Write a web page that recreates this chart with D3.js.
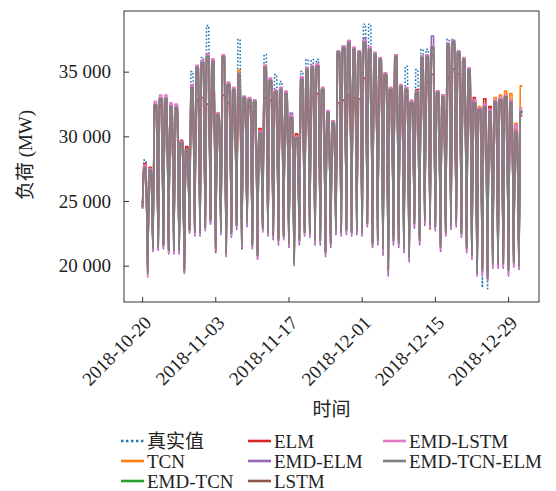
<!DOCTYPE html>
<html>
<head>
<meta charset="utf-8">
<script src="https://cdn.jsdelivr.net/npm/d3@7"></script>
<style>
body { margin: 0; background: #fff; }
text { font-family: "Liberation Serif", "DejaVu Serif", "Noto Sans CJK SC", serif; fill: #222; }
</style>
</head>
<body>
<div id="chart"></div>
<script>
// hourly load, kept as one night trough and one daytime level per day
const startDay = "2018-10-20";
const troughHour = 2;
const riseHour = 8;
const fallHour = 18;
const xTickDates = ["2018-10-20", "2018-11-03", "2018-11-17", "2018-12-01", "2018-12-15", "2018-12-29"];
const yTickValues = [20000, 25000, 30000, 35000];

const seriesNames = ["真实值", "TCN", "EMD-TCN", "ELM", "EMD-ELM", "LSTM", "EMD-LSTM", "EMD-TCN-ELM"];
const seriesColors = ["#1f77b4", "#ff7f0e", "#2ca02c", "#d62728", "#9467bd", "#8c564b", "#e377c2", "#7f7f7f"];

const actualLow = [24510, 19500, 21320, 21400, 21560, 21170, 21170, 21170, 19460, 22720,
  22570, 22570, 22960, 23300, 21320, 22720, 20930, 22490, 23110, 21560,
  23340, 21560, 20780, 22880, 22570, 22330, 21940, 22260, 21710, 20230,
  21940, 22570, 22490, 21940, 21940, 21010, 21710, 22720, 22570, 22720,
  22570, 22720, 22570, 23270, 21710, 21940, 21320, 19610, 21940, 21710,
  21320, 20780, 23270, 21940, 23500, 23200, 23000, 21450, 22570, 23110,
  23340, 22490, 21320, 20780, 19460, 18310, 18210, 20160, 20160, 20160,
  19610, 20230, 20000];
const actualHigh = [28160, 27390, 32440, 32910, 32910, 32290, 32440, 29490, 29100, 35000,
  35320, 36100, 38560, 35790, 31660, 36170, 34000, 33610, 37500, 32990,
  32830, 32680, 30260, 36330, 34310, 34770, 34230, 33300, 31430, 29880,
  35010, 35940, 35940, 35940, 33610, 31820, 31040, 36560, 36870, 37260,
  36720, 36490, 38660, 38660, 36330, 35940, 34770, 33610, 36170, 33840,
  35420, 32600, 35160, 36720, 36720, 36900, 33380, 33060, 37500, 37500,
  36490, 35940, 35160, 32600, 32050, 32290, 31900, 32680, 32830, 33060,
  32600, 30340, 31900];

const tcnLow = [24700, 19700, 21500, 21600, 21700, 21300, 21300, 21400, 19800, 22900,
  22700, 22800, 23100, 23600, 21500, 22900, 21100, 22600, 23200, 21700,
  23400, 21700, 20900, 23000, 22700, 22500, 22100, 22400, 21800, 20400,
  22100, 22700, 22600, 22100, 22100, 21200, 21800, 22900, 22700, 22900,
  22700, 22900, 22700, 23300, 21500, 22300, 21700, 20300, 22400, 22200,
  21900, 21300, 23600, 22300, 23800, 22800, 23400, 22000, 22800, 23700,
  23500, 22600, 21500, 21000, 19700, 19900, 19300, 20400, 20400, 20400,
  19900, 20500, 20300];
const tcnHigh = [27700, 27500, 32300, 32800, 32800, 32200, 32100, 29600, 29100, 33600,
  35100, 35500, 36000, 35600, 31800, 35900, 33900, 33500, 35100, 33000,
  32800, 32600, 30400, 35500, 34200, 33300, 33500, 33200, 31500, 30100,
  34200, 35000, 35100, 35200, 33500, 31900, 31200, 36300, 36700, 37000,
  36500, 36300, 37000, 36600, 36200, 35800, 34700, 33700, 36000, 33900,
  33700, 32700, 33400, 35900, 36000, 36700, 33500, 33200, 36900, 37100,
  36300, 35800, 35000, 32800, 32300, 32500, 32300, 33000, 33200, 33500,
  33300, 31000, 33900];

const emdTcnLow = [24500, 19500, 21400, 21400, 21600, 21200, 21200, 21200, 19700, 22700,
  22600, 22600, 23000, 23500, 21400, 22700, 21000, 22500, 23100, 21600,
  23300, 21600, 20800, 22900, 22600, 22400, 22000, 22300, 21700, 20300,
  22000, 22600, 22500, 22000, 22000, 21100, 21700, 22700, 22600, 22700,
  22600, 22700, 22600, 23200, 21700, 22000, 21400, 19700, 22000, 21700,
  21400, 20700, 23200, 22000, 23400, 23200, 23000, 21500, 22600, 23100,
  23300, 22500, 21400, 20800, 19500, 19700, 19100, 20200, 20200, 20200,
  19700, 20300, 20100];
const emdTcnHigh = [27600, 27400, 32400, 32900, 32900, 32300, 32200, 29500, 29000, 33700,
  35300, 35700, 36100, 35700, 31700, 36100, 34000, 33600, 34900, 33000,
  32800, 32700, 30300, 35400, 34300, 33500, 33600, 33300, 31400, 29900,
  34400, 35200, 35300, 35400, 33600, 31800, 31100, 36500, 36800, 37200,
  36700, 36500, 37200, 36700, 36300, 35900, 34800, 33600, 36100, 33800,
  33600, 32600, 33400, 36000, 36100, 36800, 33400, 33100, 37000, 37300,
  36500, 35900, 35100, 32600, 32100, 32300, 31900, 32700, 32800, 33100,
  32600, 30400, 31900];

const elmLow = [24800, 19900, 21700, 21900, 22100, 21700, 21600, 21700, 20200, 23200,
  23300, 23400, 23500, 23900, 21900, 23100, 21600, 23000, 23500, 21900,
  23600, 22000, 21300, 23300, 23000, 22800, 22600, 22700, 22300, 20900,
  22600, 23200, 23300, 23400, 23000, 22200, 22600, 24200, 24800, 24700,
  24500, 24600, 24400, 24800, 23500, 23200, 22400, 21200, 22900, 22800,
  22500, 22000, 23900, 23100, 24300, 23900, 23800, 22300, 23100, 23600,
  23800, 23000, 21900, 21300, 20200, 20300, 19800, 20600, 20700, 20700,
  20300, 20700, 20500];
const elmHigh = [27900, 27600, 32000, 32400, 32500, 32000, 31900, 29700, 29200, 32000,
  32800, 33000, 32500, 33600, 31400, 33200, 32600, 32400, 33000, 32200,
  32300, 32000, 30600, 33000, 32800, 32500, 32400, 32300, 31300, 30200,
  32300, 33000, 33100, 33300, 32500, 31200, 30900, 32600, 32800, 33200,
  33000, 32900, 34500, 36000, 35500, 35000, 34200, 33500, 36300, 33500,
  33000, 32400, 33600, 34300, 34200, 34800, 33100, 33000, 34600, 35200,
  34800, 34500, 33800, 33000, 32200, 32900, 32300, 32600, 32600, 32800,
  32600, 30500, 31600];

const emdElmLow = [24400, 20200, 21100, 21200, 21300, 20900, 20900, 20900, 19400, 22500,
  22300, 22300, 22700, 23200, 21000, 22400, 20700, 22200, 22800, 21300,
  23000, 21300, 20500, 22600, 22300, 22000, 21600, 22000, 21400, 20000,
  21600, 22300, 22200, 21600, 21600, 20700, 21400, 22400, 22300, 22400,
  22300, 22400, 22300, 23000, 21400, 21600, 20800, 19200, 21600, 21400,
  21000, 20300, 22900, 21600, 23100, 22900, 22700, 21100, 22300, 22800,
  23000, 22200, 21000, 20500, 19200, 19400, 18900, 19800, 19800, 19800,
  19200, 19900, 19700];
const emdElmHigh = [27500, 27300, 32500, 33000, 33000, 32400, 32300, 29400, 28800, 33900,
  35400, 35800, 36300, 35900, 31600, 36200, 34100, 33700, 34800, 33100,
  32900, 32800, 30200, 35400, 34400, 33500, 33700, 33400, 31800, 29800,
  34500, 35200, 35400, 35500, 33700, 31900, 31100, 36600, 37000, 37400,
  36800, 36600, 37600, 36800, 36400, 36000, 34900, 33700, 36200, 33900,
  33700, 32700, 33500, 36200, 36300, 37750, 33500, 33200, 37200, 37400,
  36600, 36000, 35200, 32700, 32100, 32400, 32000, 32700, 32900, 33100,
  32700, 30400, 32000];

const lstmLow = [24600, 19600, 21400, 21500, 21600, 21200, 21200, 21300, 19700, 22800,
  22700, 22700, 23000, 23500, 21100, 22800, 21000, 22600, 23200, 21300,
  23400, 21600, 20900, 22900, 22600, 22400, 22000, 22300, 21800, 20300,
  22000, 22600, 22500, 22000, 22000, 21100, 21800, 22800, 22700, 22800,
  22600, 22800, 22600, 23300, 21800, 22000, 21400, 19800, 22200, 22000,
  21500, 20800, 23500, 22200, 23700, 23400, 23200, 21600, 22700, 23300,
  23500, 22600, 21400, 20900, 19600, 19700, 19200, 20300, 20300, 20300,
  19800, 20400, 20100];
const lstmHigh = [27600, 27400, 32300, 32800, 32800, 32200, 32100, 29500, 29000, 33500,
  35000, 35400, 35800, 35500, 31700, 35800, 33900, 33500, 34600, 32900,
  32800, 32600, 30300, 35100, 34200, 33400, 33500, 33300, 31500, 29900,
  34200, 35000, 35200, 35500, 33500, 31800, 31000, 36300, 36700, 37000,
  36500, 36300, 37000, 36500, 36100, 35700, 34600, 33600, 36000, 33700,
  33500, 32600, 33200, 35700, 35600, 36300, 33200, 33000, 36800, 37100,
  36300, 35700, 35000, 32600, 32100, 32300, 31900, 32700, 32800, 33000,
  32600, 30300, 31800];

const emdLstmLow = [24400, 19100, 21200, 21300, 21400, 21000, 21000, 21000, 19500, 22600,
  22400, 22400, 22800, 23300, 21200, 22600, 20800, 22300, 23000, 21400,
  23200, 21400, 20500, 22700, 22400, 22200, 21800, 22100, 21600, 20100,
  21800, 22400, 22300, 21800, 21800, 20900, 21600, 22600, 22400, 22600,
  22400, 22600, 22400, 23100, 21600, 21800, 21100, 19500, 21800, 21600,
  21200, 20500, 23100, 21800, 23300, 23000, 22800, 21300, 22400, 23000,
  23200, 22300, 21100, 20600, 19300, 19200, 18900, 19900, 19900, 19900,
  19400, 20000, 19800];
const emdLstmHigh = [27800, 27500, 32700, 33200, 33200, 32600, 32500, 29600, 29000, 34000,
  35500, 35900, 36400, 36000, 31800, 36300, 34200, 33800, 34900, 33100,
  33000, 32800, 30400, 35500, 34500, 33600, 33800, 33500, 31600, 30000,
  34600, 35300, 35500, 35600, 33800, 32000, 31200, 36600, 37000, 37400,
  36900, 36600, 37400, 36900, 36500, 36100, 34900, 33800, 36300, 34000,
  33800, 32800, 33500, 36200, 36300, 37000, 33500, 33200, 37200, 37400,
  36600, 36100, 35300, 32800, 32200, 32500, 32100, 32800, 33000, 33200,
  32800, 30900, 32200];

const emdTcnElmLow = [24510, 19380, 21320, 21400, 21560, 21170, 21170, 21170, 19610, 22720,
  22570, 22570, 22960, 23500, 21320, 22720, 20930, 22490, 23110, 21560,
  23340, 21560, 20780, 22880, 22570, 22330, 21940, 22260, 21710, 20230,
  21940, 22570, 22490, 21940, 21940, 21010, 21710, 22720, 22570, 22720,
  22570, 22720, 22570, 23270, 21710, 21940, 21320, 19610, 21940, 21710,
  21320, 20620, 23270, 21940, 23500, 23200, 23000, 21400, 22570, 23110,
  23340, 22490, 21320, 20780, 19460, 19610, 18990, 20160, 20160, 20160,
  19610, 20230, 20000];
const emdTcnElmHigh = [27540, 27390, 32440, 32910, 32910, 32290, 32210, 29490, 28940, 33760,
  35320, 35710, 36170, 35790, 31660, 36170, 34000, 33610, 34770, 32990,
  32830, 32680, 30260, 35320, 34310, 33450, 33610, 33300, 31430, 29880,
  34390, 35160, 35320, 35400, 33610, 31820, 31040, 36490, 36870, 37260,
  36720, 36490, 37260, 36720, 36330, 35940, 34770, 33610, 36170, 33840,
  33610, 32600, 33380, 36100, 36170, 36900, 33380, 33060, 37110, 37340,
  36490, 35940, 35160, 32600, 32050, 32290, 31900, 32680, 32830, 33060,
  32600, 30340, 31900];

const seriesLows = [actualLow, tcnLow, emdTcnLow, elmLow, emdElmLow, lstmLow, emdLstmLow, emdTcnElmLow];
const seriesHighs = [actualHigh, tcnHigh, emdTcnHigh, elmHigh, emdElmHigh, lstmHigh, emdLstmHigh, emdTcnElmHigh];

const width = 556, height = 491;
const plot = { left: 124, right: 539, top: 11, bottom: 302 };
const serifFont = '"Liberation Serif", "DejaVu Serif", serif';
const parseDay = d3.timeParse("%Y-%m-%d");
const day0 = parseDay(startDay);

const svg = d3.select("#chart").append("svg")
    .attr("width", width)
    .attr("height", height);

const xScale = d3.scaleTime()
    .domain([new Date(2018, 9, 16, 13), new Date(2019, 0, 3, 22)])
    .range([plot.left, plot.right]);
const yScale = d3.scaleLinear()
    .domain([17190, 39690])
    .range([plot.bottom, plot.top]);

// each day: night trough, steep morning rise, daytime level, evening fall
function toPoints(lows, highs) {
    const pts = [];
    lows.forEach((lo, i) => {
        const day = d3.timeDay.offset(day0, i);
        pts.push({ t: d3.timeHour.offset(day, troughHour), v: lo });
        pts.push({ t: d3.timeHour.offset(day, riseHour), v: highs[i] });
        pts.push({ t: d3.timeHour.offset(day, fallHour), v: highs[i] });
    });
    return pts;
}

svg.append("clipPath").attr("id", "plotClip")
    .append("rect")
    .attr("x", plot.left).attr("y", plot.top)
    .attr("width", plot.right - plot.left).attr("height", plot.bottom - plot.top);

const line = d3.line().x(d => xScale(d.t)).y(d => yScale(d.v));

const linesG = svg.append("g").attr("clip-path", "url(#plotClip)");
seriesNames.forEach((name, i) => {
    linesG.append("path")
        .datum(toPoints(seriesLows[i], seriesHighs[i]))
        .attr("fill", "none")
        .attr("stroke", seriesColors[i])
        .attr("stroke-width", 1.6)
        .attr("stroke-dasharray", i === 0 ? "1.6,2" : null)
        .attr("stroke-linejoin", "round")
        .attr("d", line);
});

// axes, ticks pointing inward
const yAxis = svg.append("g")
    .attr("transform", `translate(${plot.left},0)`)
    .call(d3.axisLeft(yScale)
        .tickValues(yTickValues)
        .tickSize(-5)
        .tickPadding(13)
        .tickFormat(d => d3.format(",")(d).replace(",", " ")));
yAxis.attr("font-family", null);
yAxis.select(".domain").remove();
yAxis.selectAll("line").attr("stroke", "#333");
yAxis.selectAll("text").attr("font-size", 19).attr("fill", "#222")
    .style("font-family", serifFont);

const xAxis = svg.append("g")
    .attr("transform", `translate(0,${plot.bottom})`)
    .call(d3.axisBottom(xScale)
        .tickValues(xTickDates.map(parseDay))
        .tickSize(-5)
        .tickFormat(d3.timeFormat("%Y-%m-%d")));
xAxis.attr("font-family", null);
xAxis.select(".domain").remove();
xAxis.selectAll("line").attr("stroke", "#333");
xAxis.selectAll("text")
    .attr("x", 0).attr("y", 0).attr("dy", null)
    .attr("text-anchor", "end")
    .attr("transform", "translate(10,22) rotate(-45)")
    .attr("font-size", 19).attr("fill", "#222")
    .style("font-family", serifFont);

svg.append("rect")
    .attr("x", plot.left).attr("y", plot.top)
    .attr("width", plot.right - plot.left).attr("height", plot.bottom - plot.top)
    .attr("fill", "none").attr("stroke", "#333").attr("stroke-width", 1);

svg.append("text")
    .attr("transform", "translate(28,155) rotate(-90)")
    .attr("text-anchor", "middle")
    .attr("dominant-baseline", "middle")
    .attr("font-size", 19)
    .text("负荷 (MW)");

svg.append("text")
    .attr("x", (plot.left + plot.right) / 2)
    .attr("y", 416)
    .attr("text-anchor", "middle")
    .attr("font-size", 19)
    .text("时间");

// legend: three columns, filled top to bottom
const legendCols = [121, 248, 383];
const legendRows = [441, 461, 481];
const legend = svg.append("g");
seriesNames.forEach((name, i) => {
    const cx = legendCols[Math.floor(i / 3)];
    const cy = legendRows[i % 3];
    legend.append("line")
        .attr("x1", cx).attr("x2", cx + 23)
        .attr("y1", cy).attr("y2", cy)
        .attr("stroke", seriesColors[i])
        .attr("stroke-width", i === 0 ? 2.4 : 2.6)
        .attr("stroke-dasharray", i === 0 ? "2.4,2.6" : null);
    legend.append("text")
        .attr("x", cx + 26).attr("y", cy + 6.5)
        .attr("font-size", 19)
        .text(name);
});
</script>
</body>
</html>
